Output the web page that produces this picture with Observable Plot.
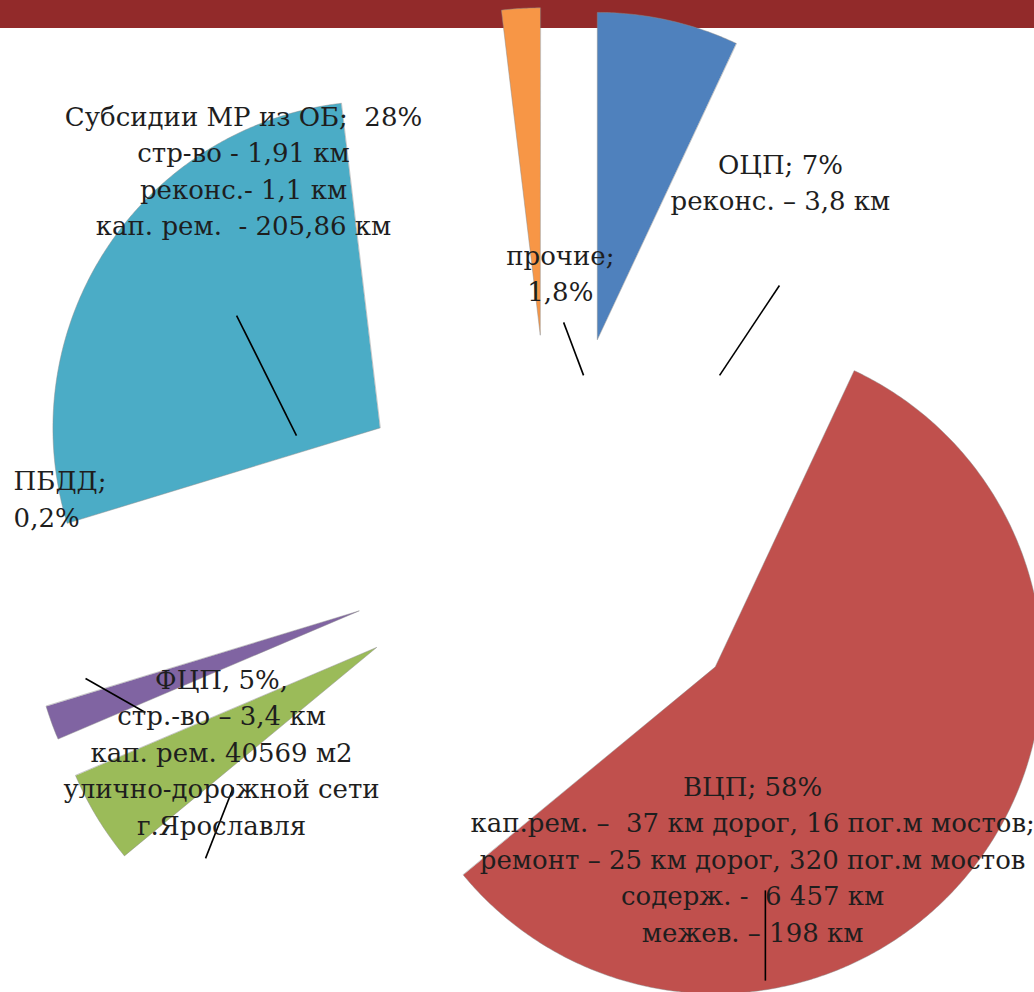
<!DOCTYPE html>
<html>
<head>
<meta charset="utf-8">
<script src="https://cdn.jsdelivr.net/npm/d3@7"></script>
<script src="https://cdn.jsdelivr.net/npm/@observablehq/plot@0.6"></script>
<style>
  html, body { margin: 0; padding: 0; background: #fff; }
  #wrap { position: relative; width: 1034px; height: 992px; overflow: hidden; }
  #bar { position: absolute; left: 0; top: 0; width: 1034px; height: 28px; background: #922a2a; }
  #chart { position: absolute; left: 0; top: 0; }
</style>
</head>
<body>
<div id="wrap"><div id="bar"></div><div id="chart"></div></div>
<script>
// Categories in pie order (clockwise from 12 o'clock)
const categories = ["ОЦП", "ВЦП", "ФЦП", "ПБДД", "Субсидии МР из ОБ", "прочие"];
// Angular share of each slice as drawn in the picture (%)
const shares = [7.0, 57.2, 4.6, 1.7, 27.9, 1.9];
const colors = ["#4f81bd", "#c0504d", "#9bbb59", "#8064a2", "#4bacc6", "#f79646"];

// Label texts
const labelTexts = [
  "ОЦП; 7%\nреконс. – 3,8 км",
  "ВЦП; 58%\nкап.рем. –  37 км дорог, 16 пог.м мостов;\nремонт – 25 км дорог, 320 пог.м мостов\nсодерж. -  6 457 км\nмежев. – 198 км",
  "ФЦП, 5%,\nстр.-во – 3,4 км\nкап. рем. 40569 м2\nулично-дорожной сети\nг.Ярославля",
  "ПБДД;\n0,2%",
  "Субсидии МР из ОБ;  28%\nстр-во - 1,91 км\nреконс.- 1,1 км\nкап. рем.  - 205,86 км",
  "прочие;\n1,8%"
];
// Label anchor (first baseline) positions in chart units (pie radius = 1)
const labelX = [0.697, 0.612, -1.012, -1.648, -0.945, 0.024];
const labelY = [1.122, -0.780, -0.453, 0.153, 1.269, 0.844];
const labelAnchor = ["middle", "middle", "middle", "start", "middle", "middle"];

// Leader lines (chart units)
const leaderX1 = [0.694, 0.651, -1.428, -0.976, -0.966, 0.034];
const leaderY1 = [0.780, -1.070, -0.422, -0.755, 0.688, 0.667];
const leaderX2 = [0.511, 0.651, -1.245, -1.061, -0.783, 0.095];
const leaderY2 = [0.505, -1.346, -0.526, -0.972, 0.321, 0.505];

const explode = 0.63;   // explosion offset relative to radius
const W = 1034, H = 992;
const R = 327;          // px per unit
const cx = 552, cy = 540;
const fontSize = 26, lineStepPx = 36.5;

const total = d3.sum(shares);
let acc = 0;
const slices = categories.map((c, i) => {
  const a0 = acc / total * 2 * Math.PI;
  acc += shares[i];
  const a1 = acc / total * 2 * Math.PI;
  const mid = (a0 + a1) / 2;
  const ox = explode * Math.sin(mid), oy = explode * Math.cos(mid);
  const pts = [{x: ox, y: oy}];
  const n = Math.max(4, Math.ceil((a1 - a0) / (Math.PI / 360)));
  for (let k = 0; k <= n; k++) {
    const a = a0 + (a1 - a0) * k / n;
    pts.push({x: ox + Math.sin(a), y: oy + Math.cos(a)});
  }
  return {cat: c, color: colors[i], pts};
});

// One record per text line, baseline-anchored
const lines = [];
labelTexts.forEach((t, i) => {
  t.split("\n").forEach((s, k) => {
    lines.push({text: s, x: labelX[i], y: labelY[i] - k * lineStepPx / R, anchor: labelAnchor[i]});
  });
});
const leaders = leaderX1.map((d, i) => ({x1: leaderX1[i], y1: leaderY1[i], x2: leaderX2[i], y2: leaderY2[i]}));

const marks = [];
for (const s of slices) {
  marks.push(Plot.line(s.pts, {x: "x", y: "y", curve: "linear-closed", fill: s.color, stroke: "#8c8c8c", strokeWidth: 0.6, strokeOpacity: 0.8}));
}
marks.push(Plot.link(leaders, {x1: "x1", y1: "y1", x2: "x2", y2: "y2", stroke: "#000", strokeWidth: 1.6}));
for (const anchor of ["middle", "start"]) {
  marks.push(Plot.text(lines.filter(d => d.anchor === anchor), {
    x: "x", y: "y", text: "text", textAnchor: anchor, lineAnchor: "bottom",
    fontSize, fill: "#1e1e1e", fontFamily: "DejaVu Serif"
  }));
}

const chart = Plot.plot({
  width: W, height: H, margin: 0,
  x: {domain: [-cx / R, (W - cx) / R], axis: null},
  y: {domain: [(cy - H) / R, cy / R], axis: null},
  style: {background: "transparent", overflow: "visible"},
  marks
});
document.getElementById("chart").appendChild(chart);
</script>
</body>
</html>
